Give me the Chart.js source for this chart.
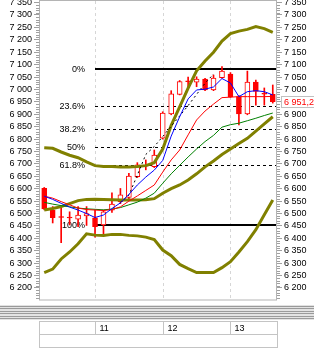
<!DOCTYPE html>
<html><head><meta charset="utf-8">
<script src="https://cdn.jsdelivr.net/npm/chart.js@4/dist/chart.umd.min.js"></script>
<style>html,body{margin:0;padding:0;background:#fff;}#wrap{position:relative;width:314px;height:354px;}</style>
</head><body><div id="wrap"><canvas id="c"></canvas></div>
<script>
// ---- data ----
const categories = ['10','10','10','10','10','10','11','11','11','11','11','11','11','11','12','12','12','12','12','12','12','12','13','13','13','13','13','13'];
const openP  = [6602,6514,6486,6485,6477,6490,6483,6454,6514,6548,6565,6649,6691,6689,6804,6901,6980,7033,7029,7042,6998,7047,7062,6971,6901,7030,6983,6980];
const highP  = [6605,6528,6528,6507,6528,6528,6514,6514,6583,6601,6662,6705,6716,6756,6910,6995,7036,7050,7051,7045,7058,7092,7068,6975,7074,7038,7006,7018];
const lowP   = [6515,6462,6383,6454,6447,6452,6405,6410,6505,6540,6560,6645,6676,6685,6800,6898,6978,7010,7011,6995,6995,7045,6968,6857,6898,6937,6937,6945];
const closeP = [6519,6483,6484,6482,6494,6500,6447,6507,6538,6575,6651,6696,6693,6736,6905,6982,7032,7031,7042,6998,7046,7074,6971,6901,7030,6992,6981,6951.2];
const maFast = [6570,6557,6541,6526,6514,6500,6484,6494,6520,6543,6577,6615,6647,6675,6714,6812,6890,6962,6998,7001,7010,7044,7026,6971,6991,6995,6991,6978];
const maMid  = [6570,6562,6548,6535,6522,6516,6514,6512,6516,6527,6550,6571,6593,6615,6667,6716,6756,6817,6877,6913,6941,6967,6969,6971,6971,6971,6971,6972];
const maSlow = [6545,6538,6532,6527,6522,6519,6517,6515,6518,6524,6535,6546,6562,6582,6622,6660,6694,6728,6760,6790,6815,6848,6858,6864,6874,6884,6895,6905];
const bbUpper  = [6765,6763,6748,6735,6725,6708,6693,6690,6690,6688,6688,6690,6693,6705,6760,6855,6930,7005,7075,7115,7150,7195,7225,7235,7242,7253,7245,7230];
const bbMiddle = [6514,6520,6528,6540,6552,6557,6558,6557,6556,6555,6555,6555,6556,6560,6582,6600,6615,6635,6660,6688,6712,6738,6760,6782,6803,6832,6861,6890];
const bbLower  = [6262,6276,6317,6345,6378,6418,6413,6412,6416,6416,6412,6410,6405,6395,6353,6330,6295,6278,6262,6262,6262,6282,6306,6345,6387,6435,6495,6555];
const trendDots = [null,null,null,null,null,null,null,null,null,6545,6574,6655,6738,6770,6810,6852,6893,6935,6980,7025,7062,null,null,null,null,null,null,null];
const yTicks = [6200,6250,6300,6350,6400,6450,6500,6550,6600,6650,6700,6750,6800,6850,6900,6950,7000,7050,7100,7150,7200,7250,7300,7350];
const fibHigh = 7081, fibLow = 6455, fibStartIdx = 6;
const fibLevels = [0, 23.6, 38.2, 50, 61.8, 100];
const fibLabels = ['0%', '23.6%', '38.2%', '50%', '61.8%', '100%'];
const dayStartIdx = [6, 14, 22];
const dayLabels = ['11', '12', '13'];
const lastPrice = 6951.2;
const lastPriceLabel = '6 951,2';

// ---- helpers ----
const fmt = v => String(v).replace(/\B(?=(\d{3})+(?!\d))/g, ' ');
const FONT = '"Liberation Sans", Arial, sans-serif';
const bodyData = openP.map((o, i) => [o, closeP[i]]);
const wickData = lowP.map((l, i) => [l, highP[i]]);

const extras = {
  id: 'extras',
  beforeDatasetsDraw(chart) {
    const {ctx, chartArea: a, scales: {x, y}} = chart;
    ctx.save();
    ctx.lineWidth = 1;
    ctx.strokeStyle = '#d6d6d6';
    ctx.setLineDash([3, 3]);
    dayStartIdx.forEach(i => {
      const px = Math.round(x.getPixelForValue(i)) + 0.5;
      ctx.beginPath(); ctx.moveTo(px, a.top); ctx.lineTo(px, a.bottom); ctx.stroke();
    });
    const x0 = Math.round(x.getPixelForValue(fibStartIdx));
    ctx.font = '9px ' + FONT;
    ctx.textAlign = 'right';
    ctx.textBaseline = 'middle';
    ctx.fillStyle = '#000';
    fibLevels.forEach((p, k) => {
      const v = fibHigh - (fibHigh - fibLow) * p / 100;
      const py = Math.round(y.getPixelForValue(v));
      ctx.strokeStyle = '#000';
      if (p === 0 || p === 100) {
        ctx.setLineDash([]); ctx.lineWidth = 2;
        ctx.beginPath(); ctx.moveTo(x0, py); ctx.lineTo(a.right, py); ctx.stroke();
      } else {
        ctx.setLineDash([3, 3]); ctx.lineWidth = 1;
        ctx.beginPath(); ctx.moveTo(x0, py + 0.5); ctx.lineTo(a.right, py + 0.5); ctx.stroke();
      }
      ctx.fillText(fibLabels[k], x0 - 10, py + 0.5);
    });
    ctx.restore();
  },
  afterDraw(chart) {
    const {ctx, chartArea: a, scales: {x, y}} = chart;
    const W = chart.width;
    ctx.save();
    ctx.setLineDash([]);
    ctx.lineWidth = 1;
    // frame
    ctx.strokeStyle = '#b4b4b4';
    ctx.strokeRect(a.left - 0.5, a.top - 0.5, a.right - a.left, a.bottom - a.top + 0.5);
    // minor ticks
    ctx.strokeStyle = '#a0a0a0';
    for (let v = 6160; v <= 7350; v += 10) {
      if (v % 50 === 0) continue;
      const py = Math.round(y.getPixelForValue(v)) + 0.5;
      if (py < a.top || py > a.bottom) continue;
      ctx.beginPath();
      ctx.moveTo(a.left - 4, py); ctx.lineTo(a.left - 0.5, py);
      ctx.moveTo(a.right, py); ctx.lineTo(a.right + 3, py);
      ctx.stroke();
    }
    // last price box
    const lp = y.getPixelForValue(lastPrice);
    ctx.fillStyle = '#fff';
    ctx.fillRect(a.right + 4, Math.round(lp) - 5, 40, 11);
    ctx.strokeStyle = '#c0c0c0';
    ctx.strokeRect(a.right + 4.5, Math.round(lp) - 5.5, 40, 11);
    ctx.fillStyle = '#ff0000';
    ctx.font = '9px ' + FONT;
    ctx.textAlign = 'left';
    ctx.textBaseline = 'middle';
    ctx.fillText(lastPriceLabel, a.right + 7, Math.round(lp) + 0.5);
    // splitter stripes
    ctx.fillStyle = '#e2e2e2';
    ctx.fillRect(0, 305, W, 15);
    ctx.fillStyle = '#9a9a9a';
    [306, 308, 311, 313, 316, 318].forEach(yy => ctx.fillRect(0, yy, W, 1));
    // time table
    ctx.strokeStyle = '#c4c4c4';
    const L = a.left - 0.5, R = a.right + 0.5;
    ctx.strokeRect(L, 321.5, R - L, 26);
    ctx.beginPath(); ctx.moveTo(L, 334.5); ctx.lineTo(R, 334.5); ctx.stroke();
    ctx.fillStyle = '#000';
    ctx.textAlign = 'left';
    dayStartIdx.forEach((i, k) => {
      const px = Math.round(x.getPixelForValue(i)) + 0.5;
      ctx.beginPath(); ctx.moveTo(px, 321.5); ctx.lineTo(px, 334.5); ctx.stroke();
      ctx.fillText(dayLabels[k], px + 4, 328.5);
    });
    ctx.restore();
  }
};

const yAxis = (pos, w, tl, pad) => ({
  type: 'linear', position: pos, min: 6151.6, max: 7356.4,
  afterBuildTicks: s => { s.ticks = yTicks.map(v => ({value: v})); },
  afterFit: s => { s.width = w; s.paddingTop = 0; s.paddingBottom = 0; },
  ticks: { autoSkip: false, padding: pad, color: '#000', font: {family: FONT, size: 9}, callback: v => fmt(v) },
  grid: { drawOnChartArea: false, tickLength: tl, tickColor: '#a0a0a0', tickWidth: 1 },
  border: { display: false }
});

const line = (data, color, width, order, extra) => Object.assign({
  type: 'line', data, borderColor: color, borderWidth: width, pointRadius: 0,
  tension: 0, fill: false, order
}, extra || {});

new Chart(document.getElementById('c'), {
  type: 'bar',
  data: {
    labels: categories,
    datasets: [
      line(maFast, '#0000ff', 1, 1),
      line(maMid, '#ff0000', 1, 2),
      line(maSlow, '#008000', 1, 3),
      line(trendDots, '#000000', 1, 4, {borderDash: [2, 3], spanGaps: false}),
      line(bbUpper, '#808000', 3, 5),
      line(bbMiddle, '#808000', 3, 6),
      line(bbLower, '#808000', 3, 7),
      { type: 'bar', data: bodyData, grouped: false, barThickness: 5, minBarLength: 1,
        borderWidth: 1, borderSkipped: false, borderColor: '#ff0000',
        backgroundColor: c => (closeP[c.dataIndex] > openP[c.dataIndex] + 2 ? '#ffffff' : '#ff0000'), order: 8 },
      { type: 'bar', data: wickData, grouped: false, barThickness: 1, backgroundColor: '#ff0000', borderWidth: 0, order: 9 }
    ]
  },
  options: {
    responsive: true, maintainAspectRatio: false, animation: false, events: [],
    layout: { padding: { top: 1, bottom: 54, left: 0, right: 0 } },
    plugins: { legend: { display: false }, tooltip: { enabled: false } },
    scales: {
      x: { type: 'category', display: false, offset: true },
      y: yAxis('left', 40, 6, 2),
      y2: yAxis('right', 37, 5, 2)
    }
  },
  plugins: [extras]
});
</script>
</body></html>
